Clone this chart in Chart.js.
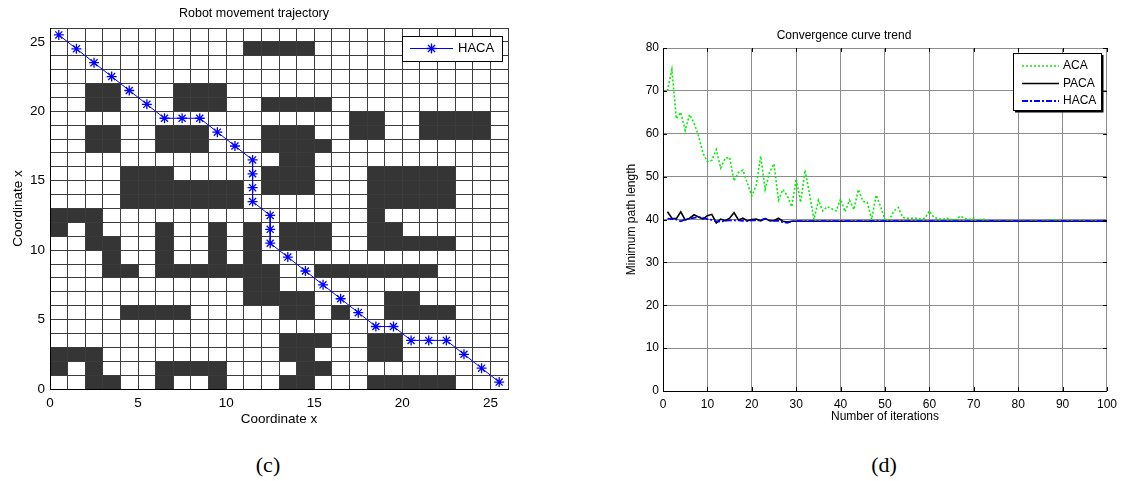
<!DOCTYPE html>
<html>
<head>
<meta charset="utf-8">
<script src="https://cdn.jsdelivr.net/npm/chart.js@4.4.1/dist/chart.umd.min.js"></script>
<style>
  body { margin: 0; background: #fff; width: 1123px; height: 481px; position: relative; overflow: hidden; }
  canvas { position: absolute; top: 0; }
  #mapChart { left: 0; }
  #curveChart { left: 580px; }
  .caption { position: absolute; top: 452px; transform: translateX(-50%);
    font-family: "Liberation Serif", "Times New Roman", serif; font-size: 22px; }
</style>
</head>
<body>
<canvas id="mapChart" width="560" height="440"></canvas>
<canvas id="curveChart" width="543" height="440"></canvas>
<div class="caption" style="left:268px">(c)</div>
<div class="caption" style="left:884px">(d)</div>
<script>
// ---- grid map (c) ----
// obstacle map, top row is y = 25, '#' = blocked cell
const obstacleMap = [
  "..........................",
  "...........####...........",
  "..........................",
  "..........................",
  "..##...###................",
  "..##...###..####..........",
  ".................##..####.",
  "..##..###...###..##..####.",
  "..##..###...####..........",
  ".............##...........",
  "....###.....###...#####...",
  "....#######.###...#####...",
  "....#######.......#####...",
  "###...............#.......",
  "#.#...#..#.#.###..##......",
  "..##..#..#.#.###..#####...",
  "...#..#..#.#..............",
  "...##.#######..#######....",
  "...........##.............",
  "...........####....##.....",
  "....####.....##.#..####...",
  "..........................",
  ".............###..##......",
  "###..........##...##......",
  "#.#...####....##..........",
  "..##..#..#...##...#####...",
];

// robot path through cell centres
const pathX = [0.5, 1.5, 2.5, 3.5, 4.5, 5.5, 6.5, 7.5, 8.5, 9.5, 10.5, 11.5, 11.5, 11.5, 11.5, 12.5,
  12.5, 12.5, 13.5, 14.5, 15.5, 16.5, 17.5, 18.5, 19.5, 20.5, 21.5, 22.5, 23.5, 24.5, 25.5];
const pathY = [25.5, 24.5, 23.5, 22.5, 21.5, 20.5, 19.5, 19.5, 19.5, 18.5, 17.5, 16.5, 15.5, 14.5, 13.5, 12.5,
  11.5, 10.5, 9.5, 8.5, 7.5, 6.5, 5.5, 4.5, 4.5, 3.5, 3.5, 3.5, 2.5, 1.5, 0.5];

// ---- convergence curves (d) ----
const acaLength = [
  70, 75, 63.5, 65, 60.8, 64.5, 62.5, 59.5, 55.5, 53.5,
  53.8, 56.3, 52, 54.3, 54.5, 49, 51, 51.5, 48.5, 45.5,
  48, 54.8, 47, 51, 53, 44.5, 47, 45.5, 43, 49.5,
  44, 51.5, 46, 40, 44.5, 42, 43, 42.5, 42, 44.8,
  41.8, 44.5, 42.3, 47, 44.3, 44, 40, 45.7, 43, 40,
  39.9, 42, 42.8, 40.5, 40.3, 40.3, 40.3, 40.1, 40.3, 42,
  40.5, 40.2, 40, 40.3, 40, 40, 40.8, 40.2, 40, 40.3,
  39.7, 40.2, 39.6, 39.6, 39.6, 39.6, 39.6, 39.6, 39.6, 39.6,
  39.6, 39.6, 39.6, 39.6, 39.6, 39.6, 39.6, 40.1, 39.6, 39.6,
  39.6, 39.6, 39.6, 39.6, 39.6, 39.6, 39.6, 39.6, 39.6, 39.6,
];
const pacaLength = [
  41.8, 40.3, 40.2, 41.8, 39.9, 40.3, 41.1, 40.6, 40.1, 40.9,
  41.2, 39.2, 40.1, 39.7, 40.3, 41.6, 39.9, 40.3, 39.7, 40,
  40.1, 39.7, 40.2, 39.7, 39.7, 40.3, 39.6, 39.4, 39.6, 39.6,
  39.6, 39.6, 39.6, 39.6, 39.6, 39.6, 39.6, 39.6, 39.6, 39.6,
  39.6, 39.6, 39.6, 39.6, 39.6, 39.6, 39.6, 39.6, 39.6, 39.6,
  39.6, 39.6, 39.6, 39.6, 39.6, 39.6, 39.6, 39.6, 39.6, 39.6,
  39.6, 39.6, 39.6, 39.6, 39.6, 39.6, 39.6, 39.6, 39.6, 39.6,
  39.6, 39.6, 39.6, 39.6, 39.6, 39.6, 39.6, 39.6, 39.6, 39.6,
  39.6, 39.6, 39.6, 39.6, 39.6, 39.6, 39.6, 39.6, 39.6, 39.6,
  39.6, 39.6, 39.6, 39.6, 39.6, 39.6, 39.6, 39.6, 39.6, 39.6,
];
const hacaLength = [
  40.2, 40.1, 40, 39.6, 40, 40.2, 40.4, 40.6, 40.4, 40.1,
  39.9, 39.6, 39.5, 39.7, 39.8, 39.8, 39.8, 39.7, 39.7, 39.8,
  39.8, 39.8, 40.2, 39.8, 39.7, 39.7, 39.4, 39.2, 39.6, 39.6,
  39.6, 39.6, 39.6, 39.6, 39.6, 39.6, 39.6, 39.6, 39.6, 39.6,
  39.6, 39.6, 39.6, 39.6, 39.6, 39.6, 39.6, 39.6, 39.6, 39.6,
  39.6, 39.6, 39.6, 39.6, 39.6, 39.6, 39.6, 39.6, 39.6, 39.6,
  39.6, 39.6, 39.6, 39.6, 39.6, 39.6, 39.6, 39.6, 39.6, 39.6,
  39.6, 39.6, 39.6, 39.6, 39.6, 39.6, 39.6, 39.6, 39.6, 39.6,
  39.6, 39.6, 39.6, 39.6, 39.6, 39.6, 39.6, 39.6, 39.6, 39.6,
  39.6, 39.6, 39.6, 39.6, 39.6, 39.6, 39.6, 39.6, 39.6, 39.6,
];

const FONT = '"Liberation Sans", Arial, sans-serif';
Chart.defaults.font.family = FONT;
Chart.defaults.color = '#000';

// fill blocked cells before the grid lines get drawn on top
const obstaclePlugin = {
  id: 'obstacles',
  beforeDraw(chart) {
    const { ctx, scales: { x, y } } = chart;
    ctx.save();
    ctx.fillStyle = '#353535';
    obstacleMap.forEach((row, i) => {
      const cy = obstacleMap.length - 1 - i;
      for (let cx = 0; cx < row.length; cx++) {
        if (row[cx] !== '#') continue;
        const x0 = x.getPixelForValue(cx);
        const x1 = x.getPixelForValue(cx + 1);
        const y0 = y.getPixelForValue(cy + 1);
        const y1 = y.getPixelForValue(cy);
        ctx.fillRect(x0, y0, x1 - x0, y1 - y0);
      }
    });
    ctx.restore();
  }
};

// short inward tick marks on all four sides of the axes box
const innerTicks = {
  id: 'innerTicks',
  afterDatasetsDraw(chart, args, opts) {
    const { ctx, chartArea: a, scales: { x, y } } = chart;
    const len = opts.length || 4;
    ctx.save();
    ctx.strokeStyle = '#000';
    ctx.lineWidth = 1;
    ctx.beginPath();
    x.ticks.forEach((t) => {
      const px = Math.round(x.getPixelForValue(t.value)) + 0.5;
      ctx.moveTo(px, a.bottom); ctx.lineTo(px, a.bottom - len);
      ctx.moveTo(px, a.top); ctx.lineTo(px, a.top + len);
    });
    y.ticks.forEach((t) => {
      const py = Math.round(y.getPixelForValue(t.value)) + 0.5;
      ctx.moveTo(a.left, py); ctx.lineTo(a.left + len, py);
      ctx.moveTo(a.right, py); ctx.lineTo(a.right - len, py);
    });
    ctx.stroke();
    ctx.restore();
  }
};

// MATLAB style boxed legend inside the axes
const boxLegend = {
  id: 'boxLegend',
  afterDraw(chart, args, opts) {
    const { ctx, chartArea } = chart;
    const left = Math.round(chartArea.right - opts.right - opts.width);
    const top = Math.round(chartArea.top + opts.top);
    ctx.save();
    ctx.fillStyle = '#fff';
    ctx.fillRect(left, top, opts.width, opts.height);
    ctx.strokeStyle = '#000';
    ctx.lineWidth = 1;
    ctx.strokeRect(left + 0.5, top + 0.5, opts.width, opts.height);
    if (opts.shadow) {
      ctx.lineWidth = 2;
      ctx.beginPath();
      ctx.moveTo(left + opts.width + 1.5, top + 2);
      ctx.lineTo(left + opts.width + 1.5, top + opts.height + 1.5);
      ctx.lineTo(left + 2, top + opts.height + 1.5);
      ctx.stroke();
    }
    ctx.font = opts.fontSize + 'px ' + FONT;
    ctx.textBaseline = 'middle';
    chart.data.datasets.forEach((ds, i) => {
      const y = top + opts.firstRow + i * opts.rowGap;
      ctx.strokeStyle = ds.borderColor;
      ctx.lineWidth = ds.borderWidth;
      ctx.setLineDash(ds.borderDash || []);
      ctx.beginPath();
      ctx.moveTo(left + opts.lineFrom, y);
      ctx.lineTo(left + opts.lineTo, y);
      ctx.stroke();
      ctx.setLineDash([]);
      if (ds.pointRadius) {
        ctx.strokeStyle = ds.pointBorderColor;
        ctx.fillStyle = ds.pointBackgroundColor;
        ctx.lineWidth = ds.pointBorderWidth;
        Chart.helpers.drawPoint(ctx, { pointStyle: ds.pointStyle, radius: ds.pointRadius, borderWidth: ds.pointBorderWidth },
          left + (opts.lineFrom + opts.lineTo) / 2, y);
      }
      ctx.fillStyle = '#000';
      ctx.fillText(ds.label, left + opts.textX, y);
    });
    ctx.restore();
  }
};

const tickFive = (v) => (v % 5 === 0 ? v : '');

new Chart(document.getElementById('mapChart'), {
  type: 'scatter',
  data: {
    datasets: [{
      label: 'HACA',
      data: pathX.map((x, i) => ({ x, y: pathY[i] })),
      showLine: true,
      borderColor: '#0000ff',
      borderWidth: 1,
      pointStyle: 'star',
      pointRadius: 5,
      pointBorderColor: '#0000ff',
      pointBackgroundColor: '#0000ff',
      pointBorderWidth: 1.3,
    }]
  },
  options: {
    responsive: false,
    animation: false,
    events: [],
    layout: { padding: { top: 0, right: 52, bottom: 11, left: 0 } },
    plugins: {
      legend: { display: false },
      tooltip: { enabled: false },
      title: {
        display: true,
        text: 'Robot movement trajectory',
        color: '#000',
        font: { size: 12.5, weight: 'normal' },
        padding: { top: 6.5, bottom: 6.5 },
      },
      boxLegend: { right: 6, top: 8, width: 100, height: 25, firstRow: 12.5, rowGap: 0,
        lineFrom: 8, lineTo: 51, textX: 56, fontSize: 13, shadow: false },
    },
    scales: {
      x: {
        type: 'linear', min: 0, max: 26,
        ticks: { stepSize: 1, autoSkip: false, maxRotation: 0, callback: tickFive, font: { size: 13.5 }, padding: 6 },
        grid: { color: '#3c3c3c', drawTicks: false },
        border: { color: '#000' },
        title: { display: true, text: 'Coordinate x', font: { size: 13.5 }, padding: { top: 0, bottom: 1.9 } },
        afterFit: (s) => { s.height = 40; },
      },
      y: {
        type: 'linear', min: 0, max: 26,
        ticks: { stepSize: 1, autoSkip: false, callback: tickFive, font: { size: 13.5 }, padding: 5 },
        grid: { color: '#3c3c3c', drawTicks: false },
        border: { color: '#000' },
        title: { display: true, text: 'Coordinate x', font: { size: 13.5 }, padding: { top: 9.9, bottom: 0 } },
        afterFit: (s) => { s.width = 50; },
      },
    },
  },
  plugins: [obstaclePlugin, boxLegend],
});

const iterations = acaLength.map((_, i) => i + 1);
const toPoints = (arr) => arr.map((v, i) => ({ x: iterations[i], y: v }));

new Chart(document.getElementById('curveChart'), {
  type: 'scatter',
  data: {
    datasets: [
      { label: 'ACA', data: toPoints(acaLength), showLine: true, borderColor: '#00f000', borderWidth: 1.6,
        borderDash: [2, 2], pointRadius: 0, order: 2 },
      { label: 'PACA', data: toPoints(pacaLength), showLine: true, borderColor: '#000', borderWidth: 1.6,
        pointRadius: 0, order: 1 },
      { label: 'HACA', data: toPoints(hacaLength), showLine: true, borderColor: '#0000ff', borderWidth: 1.8,
        borderDash: [6, 2, 2, 2], pointRadius: 0, order: 0 },
    ]
  },
  options: {
    responsive: false,
    animation: false,
    events: [],
    layout: { padding: { top: 0, right: 15, bottom: 11, left: 0 } },
    plugins: {
      legend: { display: false },
      tooltip: { enabled: false },
      title: {
        display: true,
        text: 'Convergence curve trend',
        color: '#000',
        font: { size: 12, weight: 'normal' },
        padding: { top: 28.8, bottom: 4.8 },
      },
      boxLegend: { right: 6, top: 5, width: 88, height: 57, firstRow: 13, rowGap: 17.5,
        lineFrom: 9, lineTo: 46, textX: 50, fontSize: 12, shadow: true },
      innerTicks: { length: 4 },
    },
    scales: {
      x: {
        type: 'linear', min: 0, max: 100,
        ticks: { stepSize: 10, autoSkip: false, maxRotation: 0, font: { size: 12 }, padding: 6 },
        grid: { color: '#8c8c8c', drawTicks: false },
        border: { color: '#000' },
        title: { display: true, text: 'Number of iterations', font: { size: 12 }, padding: { top: 0, bottom: 4.8 } },
        afterFit: (s) => { s.height = 38; },
      },
      y: {
        type: 'linear', min: 0, max: 80,
        ticks: { stepSize: 10, autoSkip: false, font: { size: 12 }, padding: 4 },
        grid: { color: '#8c8c8c', drawTicks: false },
        border: { color: '#000' },
        title: { display: true, text: 'Minimum path length', font: { size: 12 }, padding: { top: 44.8, bottom: 0 } },
        afterFit: (s) => { s.width = 83; },
      },
    },
  },
  plugins: [innerTicks, boxLegend],
});
</script>
</body>
</html>
